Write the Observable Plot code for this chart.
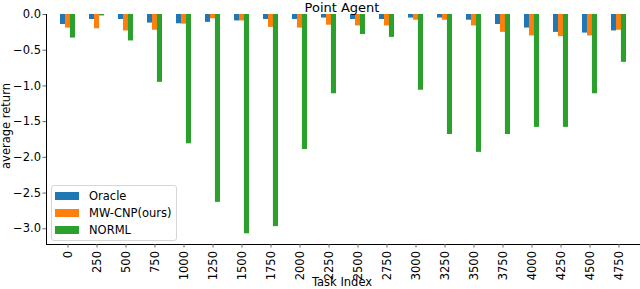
<!DOCTYPE html>
<html>
<head>
<meta charset="utf-8">
<script src="https://cdn.jsdelivr.net/npm/d3@7"></script>
<script src="https://cdn.jsdelivr.net/npm/@observablehq/plot@0.6"></script>
<style>
  html, body { margin: 0; padding: 0; background: #fff; }
  #wrap { position: relative; width: 640px; height: 289px; overflow: hidden; font-family: "DejaVu Sans", sans-serif; }
  #wrap svg.plot { position: absolute; left: 0; top: 0; }
  .legend { position: absolute; left: 51px; top: 185px; width: 126px; height: 56px; border: 1px solid #d6d6d6; border-radius: 3px; background: rgba(255,255,255,0.8); box-sizing: border-box; font-size: 11.5px; color: #000; }
  .legend .row { position: absolute; left: 3px; height: 12px; display: flex; align-items: center; }
  .legend .sw { width: 24px; height: 8px; margin-right: 10px; }
</style>
</head>
<body>
<div id="wrap"></div>
<script>
const tasks = [0,250,500,750,1000,1250,1500,1750,2000,2250,2500,2750,3000,3250,3500,3750,4000,4250,4500,4750];
const oracle = [-0.14,-0.07,-0.07,-0.12,-0.13,-0.11,-0.09,-0.07,-0.07,-0.05,-0.07,-0.07,-0.05,-0.05,-0.08,-0.14,-0.19,-0.25,-0.26,-0.23];
const mwcnp  = [-0.19,-0.20,-0.23,-0.22,-0.135,-0.06,-0.09,-0.18,-0.19,-0.15,-0.16,-0.16,-0.08,-0.08,-0.16,-0.25,-0.30,-0.31,-0.30,-0.22];
const norml  = [-0.33,-0.02,-0.37,-0.95,-1.81,-2.63,-3.07,-2.97,-1.89,-1.11,-0.28,-0.32,-1.06,-1.68,-1.93,-1.68,-1.58,-1.58,-1.11,-0.67];
const seriesNames = ["Oracle", "MW-CNP(ours)", "NORML"];
const seriesColors = ["#1f77b4", "#ff7f0e", "#2ca02c"];
const yTicks = [0, -0.5, -1.0, -1.5, -2.0, -2.5, -3.0];

const mk = (vals) => tasks.map((t, i) => ({task: t, value: vals[i]}));
const dO = mk(oracle), dM = mk(mwcnp), dN = mk(norml);

const bw3 = 4.96; // one third of band width in px (styling inset)

const chart = Plot.plot({
  width: 640,
  height: 289,
  marginLeft: 46,
  marginRight: 1,
  marginTop: 14,
  marginBottom: 45,
  style: {fontFamily: "DejaVu Sans, sans-serif", fontSize: "11.5px", color: "#000", background: "transparent"},
  x: {type: "band", domain: tasks, paddingInner: 0.5, paddingOuter: 0.22, label: null, tickRotate: -90, tickSize: 3.5, tickPadding: 3, tickFormat: d => String(d), line: true},
  y: {domain: [-3.22, 0], ticks: yTicks, tickFormat: d3.format(".1f"), label: null, tickSize: 3.5, tickPadding: 2, line: true},
  marks: [
    Plot.barY(dO, {x: "task", y1: 0, y2: "value", fill: seriesColors[0], insetRight: 2 * bw3}),
    Plot.barY(dM, {x: "task", y1: 0, y2: "value", fill: seriesColors[1], insetLeft: bw3, insetRight: bw3}),
    Plot.barY(dN, {x: "task", y1: 0, y2: "value", fill: seriesColors[2], insetLeft: 2 * bw3})
  ]
});
chart.classList.add("plot");
const wrap = document.getElementById("wrap");
wrap.appendChild(chart);

chart.querySelectorAll("g[aria-label='x-axis tick'] path, g[aria-label='y-axis tick'] path").forEach(el => el.setAttribute("stroke", "#666"));

// overlay text: title and axis labels
const ns = "http://www.w3.org/2000/svg";
const ov = document.createElementNS(ns, "svg");
ov.setAttribute("width", 640); ov.setAttribute("height", 289);
ov.style.position = "absolute"; ov.style.left = "0"; ov.style.top = "0";
ov.style.fontFamily = "DejaVu Sans, sans-serif";
function addText(txt, x, y, size, rot) {
  const t = document.createElementNS(ns, "text");
  t.textContent = txt;
  t.setAttribute("text-anchor", "middle");
  t.setAttribute("font-size", size);
  t.setAttribute("fill", "#000");
  if (rot) t.setAttribute("transform", `translate(${x},${y}) rotate(${rot})`);
  else { t.setAttribute("x", x); t.setAttribute("y", y); }
  ov.appendChild(t);
}
addText("Point Agent", 342, 11.5, 13);
addText("Task Index", 342, 286, 11.5);
addText("average return", 9.5, 126, 11.5, -90);
wrap.appendChild(ov);

// legend
const lg = document.createElement("div");
lg.className = "legend";
seriesNames.forEach((name, i) => {
  const r = document.createElement("div");
  r.className = "row";
  r.style.top = (4 + i * 17) + "px";
  const sw = document.createElement("div");
  sw.className = "sw";
  sw.style.background = seriesColors[i];
  r.appendChild(sw);
  const tx = document.createElement("span");
  tx.textContent = name;
  r.appendChild(tx);
  lg.appendChild(r);
});
wrap.appendChild(lg);
</script>
</body>
</html>
